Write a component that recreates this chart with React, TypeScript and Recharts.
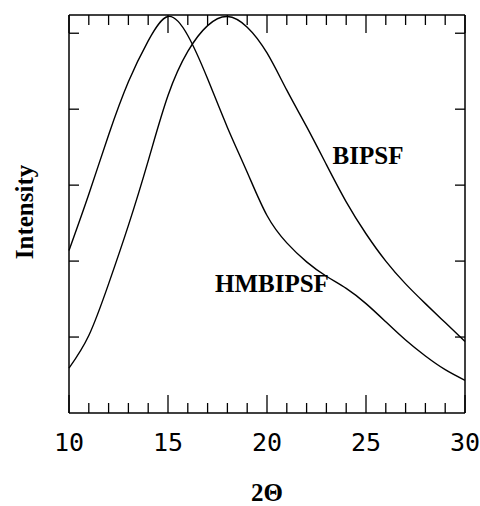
import React from 'react';
import { LineChart, Line, XAxis, YAxis, ReferenceDot } from 'recharts';

// 2θ values (degrees)
const twoTheta = [10, 11, 12, 13, 14, 15, 16, 17, 18, 19, 20, 21, 22, 23, 24, 25, 26, 27, 28, 29, 30];
// intensity, arbitrary units (peak ~15°)
const hmbipsf = [2.14, 2.88, 3.66, 4.36, 4.9, 5.22, 4.97, 4.4, 3.76, 3.17, 2.6, 2.24, 1.99, 1.8, 1.64, 1.44, 1.2, 0.96, 0.75, 0.57, 0.43];
// intensity, arbitrary units (peak ~18°)
const bipsf = [0.59, 1.02, 1.7, 2.47, 3.32, 4.18, 4.76, 5.1, 5.22, 5.08, 4.74, 4.25, 3.77, 3.27, 2.78, 2.36, 2.0, 1.7, 1.44, 1.19, 0.94];
const xTicks = twoTheta;
const yTicks = [1, 2, 3, 4, 5];

const data = twoTheta.map((x, i) => ({ x, hmbipsf: hmbipsf[i], bipsf: bipsf[i] }));

const W = 480;
const H = 506;
const M = { top: 14, right: 14, bottom: 63, left: 68 };
const PLOT_W = W - M.left - M.right - 2;

const serif = 'Liberation Serif, Times New Roman, serif';
const mono = 'DejaVu Sans Mono, monospace';

const BottomTick = (props: any) => {
  const { x, y, payload } = props;
  const major = payload.value % 5 === 0;
  return (
    <g>
      <line x1={x} x2={x} y1={y} y2={y - (major ? 18 : 10)} stroke="#000" strokeWidth={1.3} />
      {major && (
        <text x={x} y={y + 38} textAnchor="middle" fontFamily={mono} fontSize={25} fill="#000">
          {payload.value}
        </text>
      )}
    </g>
  );
};

const TopTick = (props: any) => {
  const { x, y, payload } = props;
  const major = payload.value % 5 === 0;
  return <line x1={x} x2={x} y1={y} y2={y + (major ? 18 : 10)} stroke="#000" strokeWidth={1.3} />;
};

// left ticks plus the matching ones on the right frame
const SideTick = (props: any) => {
  const { x, y } = props;
  const rx = x + PLOT_W;
  return (
    <g>
      <line x1={x} x2={x + 10} y1={y} y2={y} stroke="#000" strokeWidth={1.3} />
      <line x1={rx} x2={rx - 10} y1={y} y2={y} stroke="#000" strokeWidth={1.3} />
    </g>
  );
};

const YTitle = () => (
  <text
    x={0}
    y={0}
    transform="translate(33 212) rotate(-90)"
    textAnchor="middle"
    fontFamily={serif}
    fontWeight="bold"
    fontSize={25}
    fill="#000"
  >
    Intensity
  </text>
);

const labelStyle = { fill: '#000', fontSize: 25, fontWeight: 'bold', fontFamily: serif };
const frame = { stroke: '#000', strokeWidth: 1.5 };

export default function App() {
  return (
    <div style={{ position: 'absolute', left: 0, top: 0, background: '#fff' }}>
      <LineChart width={W} height={H} data={data} margin={M}>
        <XAxis
          xAxisId="bottom"
          dataKey="x"
          type="number"
          domain={[10, 30]}
          ticks={xTicks}
          height={30}
          tickSize={0}
          tickMargin={0}
          tickLine={false}
          tick={<BottomTick />}
          axisLine={frame}
          interval={0}
          label={{ value: '2Θ', position: 'insideBottom', offset: -58, ...labelStyle }}
        />
        <XAxis
          xAxisId="top"
          orientation="top"
          dataKey="x"
          type="number"
          domain={[10, 30]}
          ticks={xTicks}
          height={1}
          tickSize={0}
          tickMargin={0}
          tickLine={false}
          tick={<TopTick />}
          axisLine={frame}
          interval={0}
        />
        <YAxis
          yAxisId="left"
          type="number"
          domain={[0, 5.24]}
          ticks={yTicks}
          width={1}
          tickSize={0}
          tickMargin={0}
          tickLine={false}
          tick={<SideTick />}
          axisLine={frame}
          interval={0}
          label={<YTitle />}
        />
        <YAxis
          yAxisId="right"
          orientation="right"
          type="number"
          domain={[0, 5.24]}
          ticks={yTicks}
          width={1}
          tickLine={false}
          tick={false}
          axisLine={frame}
        />
        <Line
          xAxisId="bottom"
          yAxisId="left"
          type="natural"
          dataKey="hmbipsf"
          stroke="#000"
          strokeWidth={1.4}
          dot={false}
          isAnimationActive={false}
        />
        <Line
          xAxisId="bottom"
          yAxisId="left"
          type="natural"
          dataKey="bipsf"
          stroke="#000"
          strokeWidth={1.4}
          dot={false}
          isAnimationActive={false}
        />
        <ReferenceDot
          xAxisId="bottom"
          yAxisId="left"
          x={25.1}
          y={3.39}
          r={0}
          label={{ value: 'BIPSF', position: 'center', ...labelStyle }}
        />
        <ReferenceDot
          xAxisId="bottom"
          yAxisId="left"
          x={20.25}
          y={1.71}
          r={0}
          label={{ value: 'HMBIPSF', position: 'center', ...labelStyle }}
        />
      </LineChart>
    </div>
  );
}
